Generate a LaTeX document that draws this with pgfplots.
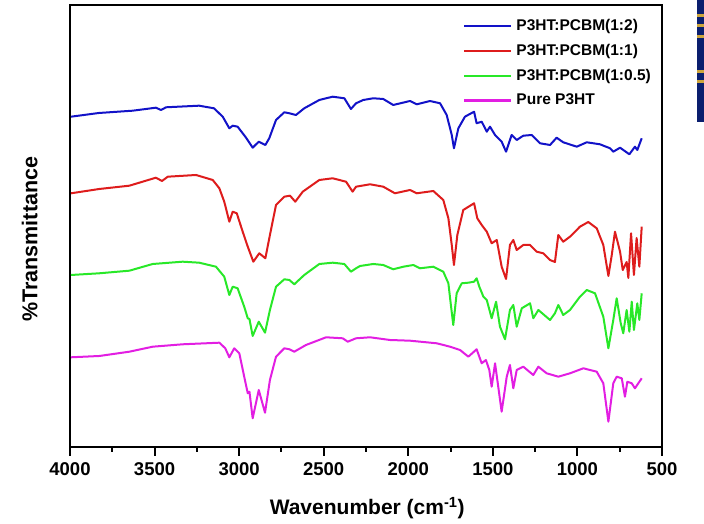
\documentclass[border=0pt]{standalone}
\usepackage{fontspec}
\setmainfont{Liberation Sans}
\usepackage{pgfplots}
\usepackage{pgfplotstable}
\pgfplotsset{compat=1.18}

\definecolor{cblue}{RGB}{18,18,200}
\definecolor{cred}{RGB}{222,28,28}
\definecolor{cgreen}{RGB}{40,232,40}
\definecolor{cmag}{RGB}{226,30,226}
\definecolor{navy}{RGB}{10,30,110}
\definecolor{gold}{RGB}{205,165,60}

% wavenumber (cm^-1), transmittance (offset, arbitrary units)
\pgfplotstableread{
w t
3994 343.3
3829 347
3629 349.3
3492 352.3
3462 350
3432 352.7
3237 354.3
3149 351.7
3097 343.3
3058 331.7
3038 334.3
3009 333.3
2959 322.3
2920 312.3
2884 318.3
2845 315
2822 321.7
2782 340
2733 347.7
2703 346.7
2664 345
2615 351.7
2526 360
2447 363.3
2378 361.7
2339 351
2309 356.7
2266 360
2207 361.7
2148 361
2089 355
1990 359
1950 355.7
1872 359
1812 356.7
1773 345
1743 325
1730 311.7
1704 331.7
1665 343.3
1611 348.3
1596 336.7
1566 338.3
1536 328.3
1517 333.3
1487 325
1448 318.3
1422 308.3
1389 325
1359 320
1320 324.3
1270 325
1221 316.7
1162 315
1123 322.3
1084 317.7
1004 313.3
945 317.7
867 315.7
807 311.7
788 308.3
748 312.3
693 305.7
660 313.3
646 310
620 321.7
}\tabBlue

\pgfplotstableread{
w t
3994 266.7
3827 271
3649 274.3
3492 282.3
3456 279
3422 283.3
3255 285
3156 280
3117 271.7
3088 258.3
3058 238.3
3038 248.3
3014 246.7
2979 228.3
2949 213.3
2916 198.3
2881 206.7
2845 201.7
2818 225
2782 255
2733 263.3
2699 264.3
2668 258.3
2624 268.3
2526 280
2447 281.7
2368 278.3
2329 268.3
2309 273.3
2226 275.7
2148 273.3
2079 266.7
1990 270
1950 266.7
1852 269
1793 260
1763 241.7
1743 215
1730 195
1710 225
1675 250
1611 256.7
1592 241.7
1566 235
1536 228.3
1507 216.7
1477 220
1448 193.3
1422 181
1399 215
1379 220
1359 210
1320 215
1280 215
1241 208.3
1202 206.7
1162 200
1133 198
1113 225
1084 218.3
1044 223.3
985 233.3
936 238
886 231.7
847 215
817 184
797 205
778 228.3
748 208.3
732 190
709 198
699 182
683 226.7
666 185
650 222
634 193.3
620 233.3
}\tabRed

\pgfplotstableread{
w t
3994 185
3827 186.7
3649 189.3
3511 196
3334 198.3
3236 197.3
3137 193.3
3088 183.3
3058 165
3038 173.3
3009 171.7
2970 153.3
2949 141.7
2939 141
2920 124
2884 138.3
2847 127.3
2818 150
2782 173.3
2733 180.7
2703 180
2674 175.7
2615 185
2526 196
2447 197.3
2378 196
2339 188.3
2309 191.7
2285 194
2207 196
2148 195
2089 190.7
2029 193.3
1970 195
1931 191.7
1852 193.3
1793 188.3
1763 176.7
1747 153.3
1734 135
1714 166.7
1684 176.7
1645 177.3
1611 178.3
1596 181.7
1580 173.3
1556 163.3
1536 160
1507 141.7
1481 158.3
1458 133.3
1428 120.7
1399 150
1379 155
1359 133.3
1329 151.7
1280 156.7
1261 141.7
1231 150
1162 140
1133 146.7
1113 155
1084 145
1044 150
985 163.3
945 170
896 166.7
847 143.3
817 111.7
788 140
768 161.7
744 136.7
729 126.7
709 150
693 128.3
679 158.3
666 130
646 156.7
634 140
620 166.7
}\tabGreen

\pgfplotstableread{
w t
3994 102.7
3827 104
3649 108.3
3511 113.3
3334 115.7
3117 117.3
3082 111.7
3058 102.7
3029 111.7
2999 106.7
2970 83.3
2949 66.7
2939 68.3
2920 41.7
2884 70
2847 47.3
2818 80
2782 103.3
2733 111.7
2703 110.7
2674 108.3
2605 115
2486 122.7
2388 121.7
2358 118.3
2309 121.7
2226 122.7
2108 120
1990 119.3
1832 116.7
1753 113.3
1694 110
1645 103.3
1596 110.7
1566 96.7
1541 100
1521 90
1507 73.3
1487 96.7
1448 48.3
1418 83.3
1399 95
1379 71.7
1359 90
1320 93.3
1261 85
1231 93.3
1182 86.7
1113 83.3
1044 86.7
965 91.7
886 88.3
847 76.7
817 38.3
788 76.7
768 83.3
738 81.7
719 63.3
705 78.3
679 76.7
660 71.7
620 81.7
}\tabMag

\begin{document}
\begin{tikzpicture}[x=1bp,y=1bp]
\path[use as bounding box] (0,0) rectangle (704,524);
% piece of a neighbouring slide at the right edge
\fill[navy] (697,402) rectangle (704,524);
\foreach \s in {507,497,486,451,441} \fill[gold] (697,\s) rectangle (704,\s+3);

\begin{axis}[
  at={(70bp,77bp)},
  anchor=south west,
  scale only axis,
  width=592bp,
  height=442bp,
  x dir=reverse,
  xmin=500, xmax=4000,
  ymin=13, ymax=455,
  xtick={500,1000,...,4000},
  minor x tick num=1,
  ytick=\empty,
  xtick pos=bottom,
  tick align=outside,
  major tick length=9bp,
  minor tick length=5bp,
  axis line style={line width=2.3bp},
  major tick style={line width=2bp, black},
  minor tick style={line width=2bp, black},
  /pgf/number format/assume math mode=true,
  /pgf/number format/set thousands separator={},
  xticklabel style={font=\fontsize{18.5bp}{20bp}\selectfont\bfseries, yshift=-3bp},
  xlabel={Wavenumber (cm\textsuperscript{-1})},
  xlabel style={font=\fontsize{21bp}{24bp}\selectfont\bfseries,
    at={(axis description cs:0.502,-0.138)}, anchor=center},
  ylabel={\%Transmittance},
  ylabel style={font=\fontsize{21.5bp}{24bp}\selectfont\bfseries,
    at={(axis description cs:-0.068,0.47)}, anchor=center},
  every axis plot/.append style={line width=2bp, line join=round},
  legend cell align=left,
  legend image code/.code={\draw[#1, line width=2.2bp] (0bp,0bp) -- (47bp,0bp);},
  legend style={draw=none, fill=none, inner sep=0pt,
    at={(axis description cs:0.664,0.969)}, anchor=north west,
    font=\fontsize{15.5bp}{18bp}\selectfont\bfseries,
    nodes={inner sep=0pt, text height=12bp, text depth=3bp},
    row sep=9.7bp, column sep=4bp},
]
\addplot[cblue] table[x=w, y=t] {\tabBlue};
\addlegendentry{P3HT:PCBM(1:2)}
\addplot[cred] table[x=w, y=t] {\tabRed};
\addlegendentry{P3HT:PCBM(1:1)}
\addplot[cgreen] table[x=w, y=t] {\tabGreen};
\addlegendentry{P3HT:PCBM(1:0.5)}
\addplot[cmag] table[x=w, y=t] {\tabMag};
\addlegendentry{Pure P3HT}
\end{axis}
\end{tikzpicture}
\end{document}
